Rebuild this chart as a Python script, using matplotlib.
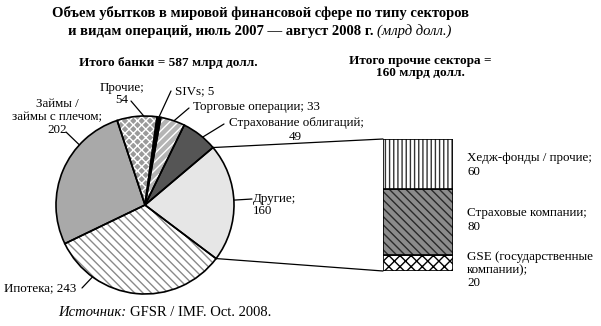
import numpy as np
import matplotlib
matplotlib.use("Agg")
import matplotlib.pyplot as plt
from matplotlib.patches import ConnectionPatch

plt.rcParams['font.family'] = ['Liberation Serif', 'DejaVu Serif']
plt.rcParams['hatch.linewidth'] = 1.0

# Data (млрд долл.)
bank_labels = ["Другие", "Страхование облигаций", "Торговые операции", "SIVs",
               "Прочие", "Займы / займы с плечом", "Ипотека"]
bank_values = [160, 49, 33, 5, 54, 202, 243]
other_labels = ["GSE (государственные компании)", "Страховые компании", "Хедж-фонды / прочие"]
other_values = [20, 80, 60]

W, H = 601, 326
fig = plt.figure(figsize=(W / 100, H / 100), dpi=100)

# overlay axes in pixel coords (y down) for texts
ov = fig.add_axes([0, 0, 1, 1])
ov.set_xlim(0, W)
ov.set_ylim(H, 0)
ov.axis("off")

# pie axes
cx, cy, r = 145, 205, 89
half = 100
pie_ax = fig.add_axes([(cx - half) / W, (H - cy - half) / H, 2 * half / W, 2 * half / H])
lim = half / r
pie_ax.axis("off")

start = -37
faces = ["#e6e6e6", "#555555", "#b4b4b4", "#000000", "#9a9a9a", "#a9a9a9", "#ffffff"]
hatch_cols = ["#e6e6e6", "#555555", "#ffffff", "#000000", "#ffffff", "#a9a9a9", "#8a8a8a"]
hatches = [None, None, "////", None, "xxxx", None, "\\\\\\\\"]

wedges, _ = pie_ax.pie(bank_values, startangle=start, counterclock=True,
                       radius=1, center=(0, 0), colors=faces,
                       wedgeprops=dict(linewidth=0))
for w, hc, hh in zip(wedges, hatch_cols, hatches):
    w.set_edgecolor(hc)
    if hh:
        w.set_hatch(hh)
pie_ax.pie(bank_values, startangle=start, counterclock=True, radius=1,
           center=(0, 0), wedgeprops=dict(fill=False, edgecolor="black", linewidth=1.2))
pie_ax.set_xlim(-lim, lim)
pie_ax.set_ylim(-lim, lim)

# stacked bar axes
bx0, bx1, by0, by1 = 383, 453, 139, 271
bar_ax = fig.add_axes([bx0 / W, (H - by1) / H, (bx1 - bx0) / W, (by1 - by0) / H])
bar_ax.set_xlim(-0.5, 0.5)
bar_ax.set_ylim(0, sum(other_values))
bar_ax.axis("off")
bar_faces = ["#ffffff", "#8c8c8c", "#ffffff"]
bar_hcols = ["#000000", "#2a2a2a", "#333333"]
bar_hatch = ["xxx", "\\\\\\\\", "||||"]
bottom = 0
for v, fc, hc, hh in zip(other_values, bar_faces, bar_hcols, bar_hatch):
    bar_ax.bar(0, v, width=1, bottom=bottom, color=fc, edgecolor=hc, hatch=hh, linewidth=0)
    bar_ax.bar(0, v, width=1, bottom=bottom, fill=False, edgecolor="black", linewidth=1.2)
    bottom += v

# connectors from "Другие" wedge to the bar
total = sum(bank_values)
a0 = np.deg2rad(start)
a1 = np.deg2rad(start + 360 * bank_values[0] / total)
for ang, yb in [(a1, sum(other_values)), (a0, 0)]:
    cp = ConnectionPatch(xyA=(np.cos(ang), np.sin(ang)), coordsA=pie_ax.transData,
                         xyB=(-0.5, yb), coordsB=bar_ax.transData,
                         color="black", linewidth=0.9)
    fig.add_artist(cp)

fs = 9.4
# title
ov.text(261, 13, "Объем убытков в мировой финансовой сфере по типу секторов",
        ha="center", va="center", fontsize=10.5, fontweight="bold")
ov.text(373, 31, "и видам операций, июль 2007 — август 2008 г.",
        ha="right", va="center", fontsize=10.5, fontweight="bold")
ov.text(377, 31, "(млрд долл.)", ha="left", va="center", fontsize=10.5, style="italic")

ov.text(168, 63, "Итого банки = 587 млрд долл.", ha="center", va="center",
        fontsize=9.5, fontweight="bold")
ov.text(420, 67, "Итого прочие сектора =\n160 млрд долл.", ha="center", va="center",
        fontsize=9.5, fontweight="bold", linespacing=1.05)


def pie_pt(i, frac=0.5):
    cum = sum(bank_values[:i]) + frac * bank_values[i]
    a = np.deg2rad(start + 360 * cum / total)
    return (np.cos(a), np.sin(a))


def leader(i, xy_px, frac=0.5):
    ov.annotate("", xy=pie_pt(i, frac), xycoords=pie_ax.transData,
                xytext=xy_px, textcoords=ov.transData,
                arrowprops=dict(arrowstyle="-", color="black", lw=0.9,
                                shrinkA=0, shrinkB=0))


# labels
ov.text(122, 94, "Прочие;\n54", ha="center", va="center", fontsize=fs, linespacing=1.1)
leader(4, (131, 101), 0.33)
ov.text(175, 91, "SIVs; 5", ha="left", va="center", fontsize=fs)
leader(3, (171, 91))
ov.text(193, 107, "Торговые операции; 33", ha="left", va="center", fontsize=fs)
leader(2, (189, 108), 0.45)
ov.text(229, 123, "Страхование облигаций;", ha="left", va="center", fontsize=fs)
ov.text(302, 137, "49", ha="right", va="center", fontsize=fs)
leader(1, (224, 124), 0.4)
ov.text(57, 117, "Займы /\nзаймы с плечом;\n202", ha="center", va="center",
        fontsize=fs, linespacing=1.15)
leader(5, (66, 132), 0.3)
ov.text(253, 205, "Другие;\n160", ha="left", va="center", fontsize=fs,
        linespacing=1.1)
leader(0, (252, 199), 0.52)
ov.text(4, 288, "Ипотека; 243", ha="left", va="center", fontsize=fs)
leader(6, (82, 288), 0.24)

ov.text(467, 165, "Хедж-фонды / прочие;\n60", ha="left", va="center", fontsize=fs,
        linespacing=1.15)
ov.text(467, 220, "Страховые компании;\n80", ha="left", va="center", fontsize=fs,
        linespacing=1.15)
ov.text(467, 270, "GSE (государственные\nкомпании);\n20", ha="left", va="center",
        fontsize=fs, linespacing=1.1)

# source
ov.text(126, 313, "Источник:", ha="right", va="center", fontsize=10.5, style="italic")
ov.text(130, 313, "GFSR / IMF. Oct. 2008.", ha="left", va="center", fontsize=10.5)

fig.savefig("out.png", dpi=100)
